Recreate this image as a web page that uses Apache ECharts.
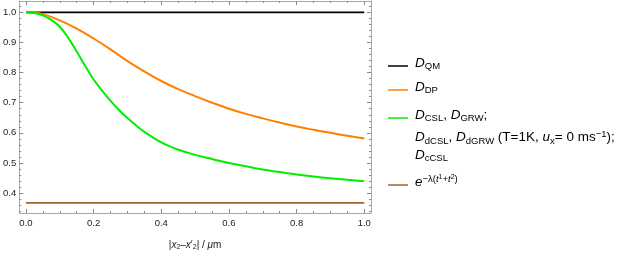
<!DOCTYPE html>
<html><head><meta charset="utf-8">
<script src="https://cdn.jsdelivr.net/npm/echarts@6/dist/echarts.min.js"></script>
<style>html,body{margin:0;padding:0;background:#fff}#c{width:623px;height:256px}</style>
</head><body><div id="c"></div>
<script>
const xTickLabels = [0.0, 0.2, 0.4, 0.6, 0.8, 1.0];
const yTickLabels = [0.4, 0.5, 0.6, 0.7, 0.8, 0.9, 1.0];
const qmX = [0, 1];
const qmY = [1.0, 1.0];
const dpX = [0, 0.05, 0.1, 0.15, 0.2, 0.25, 0.3, 0.35, 0.4, 0.45, 0.5, 0.55, 0.6, 0.65, 0.7, 0.75, 0.8, 0.85, 0.9, 0.95, 1.0];
const dpY = [1.0, 0.994, 0.973, 0.946, 0.913, 0.877, 0.838, 0.804, 0.772, 0.745, 0.722, 0.70, 0.68, 0.663, 0.648, 0.634, 0.621, 0.610, 0.600, 0.590, 0.581];
const cslX = [0, 0.025, 0.05, 0.075, 0.1, 0.125, 0.15, 0.175, 0.2, 0.225, 0.25, 0.275, 0.3, 0.325, 0.35, 0.375, 0.4, 0.425, 0.45, 0.5, 0.55, 0.6, 0.65, 0.7, 0.75, 0.8, 0.85, 0.9, 0.95, 1.0];
const cslY = [1.0, 0.998, 0.99, 0.975, 0.952, 0.915, 0.87, 0.822, 0.777, 0.74, 0.706, 0.676, 0.649, 0.625, 0.603, 0.585, 0.568, 0.555, 0.544, 0.527, 0.513, 0.50, 0.489, 0.478, 0.47, 0.462, 0.455, 0.449, 0.444, 0.439];
const expX = [0, 1];
const expY = [0.3679, 0.3679];

const FONT = 'Liberation Sans, Arial, sans-serif';
const xMinor = [], yMinor = [];
for (let i = 0; i <= 20; i++) xMinor.push(+(i * 0.05).toFixed(2));
for (let i = 17; i <= 51; i++) yMinor.push(+(i * 0.02).toFixed(2));

function pairs(xs, ys) { return xs.map((x, i) => [x, ys[i]]); }

const frameColor = '#a8a8a8';
const tickColor = '#8a8a8a';
function xAx(pos, major, labels, name) {
  return {
    type: 'value', position: pos, min: -0.02, max: 1.02,
    axisLine: { show: major, onZero: false, lineStyle: { color: frameColor, width: 1 } },
    axisTick: { show: true, inside: true, length: major ? 4 : 2, customValues: major ? xTickLabels : xMinor, lineStyle: { color: tickColor } },
    axisLabel: labels ? { show: true, customValues: xTickLabels, margin: 5, fontSize: 9.5, fontFamily: FONT, color: '#222', formatter: v => v.toFixed(1) } : { show: false },
    splitLine: { show: false },
    name: name || '', nameLocation: 'middle', nameGap: 27,
    nameTextStyle: {
      fontSize: 10, fontFamily: FONT, color: '#222',
      rich: {
        n: { fontSize: 10, fontFamily: FONT, color: '#222' },
        i: { fontSize: 10, fontFamily: FONT, fontStyle: 'italic', color: '#222' },
        s: { fontSize: 7, fontFamily: FONT, color: '#222', verticalAlign: 'bottom', padding: [4, 0, 0, 0] }
      }
    }
  };
}
function yAx(pos, major, labels) {
  return {
    type: 'value', position: pos, min: 0.334, max: 1.0375,
    axisLine: { show: major, onZero: false, lineStyle: { color: frameColor, width: 1 } },
    axisTick: { show: true, inside: true, length: major ? 4 : 2, customValues: major ? yTickLabels : yMinor, lineStyle: { color: tickColor } },
    axisLabel: labels ? { show: true, customValues: yTickLabels, margin: 3, fontSize: 9.5, fontFamily: FONT, color: '#222', formatter: v => v.toFixed(1) } : { show: false },
    splitLine: { show: false }
  };
}

const xName = '{n||}{i|x}{s|2}{n|–}{i|x}{n|\u2032}{s|2}{n|| / }{i|μ}{n|m}';

const chart = echarts.init(document.getElementById('c'));
const richL = {
  i: { fontSize: 13.5, fontFamily: FONT, fontStyle: 'italic', color: '#000', verticalAlign: 'middle' },
  n: { fontSize: 13.5, fontFamily: FONT, color: '#000', verticalAlign: 'middle' },
  s: { fontSize: 9.5, fontFamily: FONT, color: '#000', verticalAlign: 'bottom', padding: [7, 0, 0, 0] },
  sup: { fontSize: 9.5, fontFamily: FONT, color: '#000', verticalAlign: 'top', padding: [0, 0, 7, 0] },
  supi: { fontSize: 9.5, fontFamily: FONT, fontStyle: 'italic', color: '#000', verticalAlign: 'top', padding: [0, 0, 7, 0] },
  supsub: { fontSize: 7, fontFamily: FONT, color: '#000', verticalAlign: 'top', padding: [0, 0, 3, 0] }
};
function legText(txt, y) {
  return { type: 'text', left: 415, top: y - 10, style: { text: txt, rich: richL, font: '13.5px ' + FONT } };
}
function legLine(color, y) {
  return { type: 'line', shape: { x1: 388, y1: y, x2: 408, y2: y }, style: { stroke: color, lineWidth: 1.5 } };
}
const C = { qm: '#000000', dp: '#ff7f00', csl: '#00ee00', exp: '#a0652d' };

chart.setOption({
  animation: false,
  grid: { left: 16, right: 252, top: 1, bottom: 35.5, containLabel: false },
  xAxis: [xAx('bottom', true, true, xName), xAx('bottom', false, false), xAx('top', true, false), xAx('top', false, false)],
  yAxis: [yAx('left', true, true), yAx('left', false, false), yAx('right', true, false), yAx('right', false, false)],
  series: [
    { name: 'QM', type: 'line', data: pairs(qmX, qmY), showSymbol: false, lineStyle: { color: C.qm, width: 1.8 }, itemStyle: { color: C.qm } },
    { name: 'DP', type: 'line', data: pairs(dpX, dpY), smooth: 0.4, showSymbol: false, lineStyle: { color: C.dp, width: 2 }, itemStyle: { color: C.dp } },
    { name: 'CSL', type: 'line', data: pairs(cslX, cslY), smooth: 0.4, showSymbol: false, lineStyle: { color: C.csl, width: 2 }, itemStyle: { color: C.csl } },
    { name: 'exp', type: 'line', data: pairs(expX, expY), showSymbol: false, lineStyle: { color: C.exp, width: 1.8 }, itemStyle: { color: C.exp } }
  ],
  graphic: [
    legLine(C.qm, 66), legText('{i|D}{s|QM}', 66),
    legLine(C.dp, 90), legText('{i|D}{s|DP}', 90),
    legLine(C.csl, 118), legText('{i|D}{s|CSL}{n|, }{i|D}{s|GRW}{n|;}', 118),
    legText('{i|D}{s|dCSL}{n|, }{i|D}{s|dGRW}{n| (T=1K, }{i|u}{s|x}{n|= 0 ms}{sup|−1}{n|);}', 139),
    legText('{i|D}{s|cCSL}', 158),
    legLine(C.exp, 185), legText('{i|e}{sup|−λ(}{supi|t}{supsub|1}{sup|+}{supi|t}{supsub|2}{sup|)}', 184)
  ]
});
</script></body></html>
